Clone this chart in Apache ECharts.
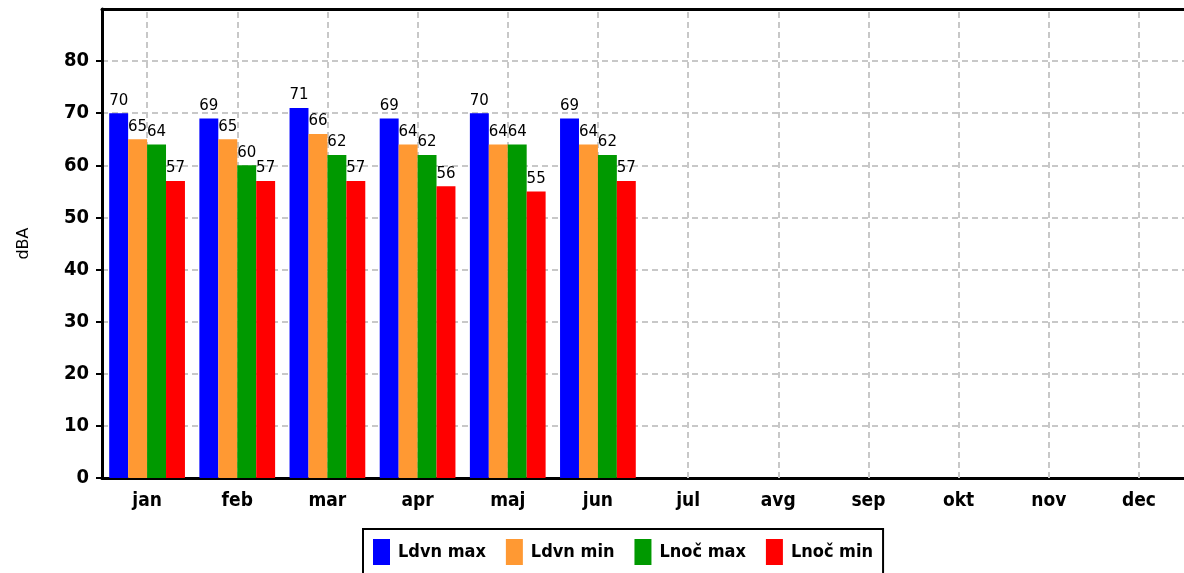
<!DOCTYPE html>
<html>
<head>
<meta charset="utf-8">
<script src="https://cdn.jsdelivr.net/npm/echarts@6/dist/echarts.min.js"></script>
<style>html,body{margin:0;padding:0;background:#fff;}#c{width:1184px;height:573px;}</style>
</head>
<body>
<div id="c"></div>
<script>
var months = ['jan','feb','mar','apr','maj','jun','jul','avg','sep','okt','nov','dec'];
var seriesNames = ['Ldvn max','Ldvn min','Lnoč max','Lnoč min'];
var ldvnMax = [70,69,71,69,70,69,null,null,null,null,null,null];
var ldvnMin = [65,65,66,64,64,64,null,null,null,null,null,null];
var lnocMax = [64,60,62,62,64,62,null,null,null,null,null,null];
var lnocMin = [57,57,57,56,55,57,null,null,null,null,null,null];
var colors = ['#0000ff','#ff9933','#009900','#ff0000'];
var yMin = 0, yMax = 90, yInterval = 10;

var narrow = '"DejaVu Sans Condensed", "DejaVu Sans", sans-serif';
var chart = echarts.init(document.getElementById('c'), null, {renderer:'canvas'});
var values = [ldvnMax, ldvnMin, lnocMax, lnocMin];
var series = values.map(function(v, i){
  return {
    name: seriesNames[i],
    type: 'bar',
    data: v,
    z: 3,
    barGap: '0%',
    barCategoryGap: '16%',
    itemStyle: {color: colors[i]},
    label: {show: true, position: 'top', distance: 5, color: '#000', fontSize: 15, fontFamily: 'DejaVu Sans'}
  };
});
series.push({
  name: '_vgrid',
  type: 'line',
  data: months.map(function(){ return null; }),
  silent: true,
  markLine: {
    silent: true,
    symbol: ['none','none'],
    z: 1,
    label: {show: false},
    lineStyle: {color: '#c8c8c8', type: [6,4], width: 2},
    data: months.map(function(m){ return {xAxis: m}; })
  }
});

chart.setOption({
  animation: false,
  backgroundColor: '#fff',
  color: colors,
  grid: {left: 102, top: 9, width: 1086, height: 469, show: false},
  legend: {
    data: seriesNames,
    left: 363, top: 529,
    padding: [10, 10, 10, 10],
    borderColor: '#000', borderWidth: 2,
    itemWidth: 17, itemHeight: 26, itemGap: 20,
    icon: 'rect',
    textStyle: {fontSize: 18, fontWeight: 'bold', color: '#000', fontFamily: narrow, padding: [2,0,0,3]}
  },
  xAxis: [{
    type: 'category',
    data: months,
    axisLine: {lineStyle: {color: '#000', width: 3}},
    axisTick: {alignWithLabel: true, length: 5, lineStyle: {color: '#000', width: 2}},
    axisLabel: {fontSize: 19, fontWeight: 'bold', color: '#000', margin: 14, fontFamily: narrow},
    splitLine: {show: false}
  }, {
    type: 'category',
    data: months,
    position: 'top',
    z: 5,
    axisLine: {show: true, lineStyle: {color: '#000', width: 3}},
    axisTick: {show: false},
    axisLabel: {show: false},
    splitLine: {show: false}
  }],
  yAxis: {
    type: 'value',
    min: yMin, max: yMax, interval: yInterval,
    name: 'dBA', nameLocation: 'middle', nameGap: 70, nameRotate: 90,
    nameTextStyle: {fontSize: 16, color: '#000', fontFamily: 'DejaVu Sans'},
    axisLine: {show: true, lineStyle: {color: '#000', width: 3}},
    axisTick: {show: true, length: 6, lineStyle: {color: '#000', width: 2}},
    axisLabel: {fontSize: 20, fontWeight: 'bold', color: '#000', margin: 13, showMaxLabel: false, fontFamily: narrow},
    splitLine: {show: true, lineStyle: {color: '#c8c8c8', type: [6,4], width: 2}}
  },
  series: series
});
</script>
</body>
</html>
